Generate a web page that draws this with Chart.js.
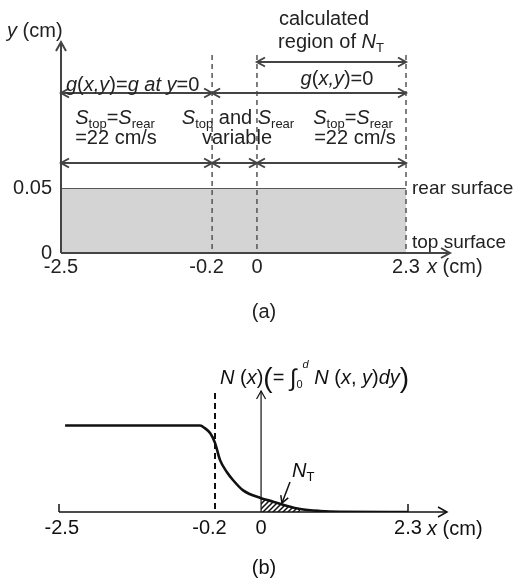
<!DOCTYPE html>
<html>
<head>
<meta charset="utf-8">
<script src="https://cdn.jsdelivr.net/npm/chart.js@4.4.1/dist/chart.umd.min.js"></script>
<style>
  body { margin: 0; background: #fff; width: 523px; height: 580px; overflow: hidden; position: relative; }
  canvas { position: absolute; left: 0; }
  #chartA { top: 0; }
  #chartB { top: 330px; }
</style>
</head>
<body>
<canvas id="chartA" width="523" height="330"></canvas>
<canvas id="chartB" width="523" height="250"></canvas>
<script>
// x (cm) where the schematic axis changes its scale
const xBreaks = [-2.5, -0.2, 0, 2.3];
const xTickLabelsA = ['-2.5', '-0.2  ', '0', '2.3'];
const xTickLabelsB = [' -2.5', '-0.2  ', '0', '2.3'];
const yTicksA = [0, 0.05];
const yTickLabelsA = ['0', '0.05'];

// wafer slab in (a), thickness 0.05 cm
const slabX = [-2.5, 2.3];
const slabY = [0.05, 0.05];

// N(x) in (b), normalised to 1 where flat
const curveX = [-2.41, -0.42, -0.35, -0.27, -0.2, -0.178, -0.148, -0.122, -0.078, 0, 0.19, 0.41, 0.61, 0.92, 1.24, 2.3];
const curveN = [1.0, 1.0, 0.97, 0.91, 0.80, 0.60, 0.46, 0.37, 0.25, 0.16, 0.12, 0.07, 0.035, 0.012, 0.003, 0];
const hatchEnd = 0.61;

const FONT = '"Liberation Sans", Arial, sans-serif';

// piecewise linear x axis, like the drawing
function makeSchematicScale(id, fracs) {
    class SchematicScale extends Chart.LinearScale {
        getPixelForValue(v) {
            if (v === null || v === undefined) return NaN;
            let i = 0;
            while (i < xBreaks.length - 2 && v > xBreaks[i + 1]) i++;
            const t = (v - xBreaks[i]) / (xBreaks[i + 1] - xBreaks[i]);
            return this.getPixelForDecimal(fracs[i] + t * (fracs[i + 1] - fracs[i]));
        }
        getValueForPixel(p) {
            const d = this.getDecimalForPixel(p);
            let i = 0;
            while (i < fracs.length - 2 && d > fracs[i + 1]) i++;
            const t = (d - fracs[i]) / (fracs[i + 1] - fracs[i]);
            return xBreaks[i] + t * (xBreaks[i + 1] - xBreaks[i]);
        }
    }
    SchematicScale.id = id;
    SchematicScale.defaults = Chart.LinearScale.defaults;
    Chart.register(SchematicScale);
}
makeSchematicScale('schemA', [0, 0.438, 0.568, 1]);
makeSchematicScale('schemB', [0, 0.447, 0.579, 1]);

function line(ctx, x1, y1, x2, y2) {
    ctx.beginPath();
    ctx.moveTo(x1, y1);
    ctx.lineTo(x2, y2);
    ctx.stroke();
}

// open V arrow head, tip at (x, y), pointing along angle a
function head(ctx, x, y, a, len, half) {
    const bx = x - len * Math.cos(a), by = y - len * Math.sin(a);
    const nx = -Math.sin(a) * half, ny = Math.cos(a) * half;
    ctx.beginPath();
    ctx.moveTo(bx + nx, by + ny);
    ctx.lineTo(x, y);
    ctx.lineTo(bx - nx, by - ny);
    ctx.stroke();
}

function dblArrow(ctx, x1, x2, y) {
    line(ctx, x1, y, x2, y);
    head(ctx, x1, y, Math.PI, 8, 4.5);
    head(ctx, x2, y, 0, 8, 4.5);
}

// parts: [text, size, italic, dy]
function rich(ctx, parts, x, base, align) {
    const fontOf = p => (p[2] ? 'italic ' : '') + p[1] + 'px ' + FONT;
    let w = 0;
    parts.forEach(p => { ctx.font = fontOf(p); w += ctx.measureText(p[0]).width; });
    let cx = align === 'center' ? x - w / 2 : x;
    ctx.textAlign = 'left';
    ctx.textBaseline = 'alphabetic';
    parts.forEach(p => {
        ctx.font = fontOf(p);
        ctx.fillText(p[0], cx, base + (p[3] || 0));
        cx += ctx.measureText(p[0]).width;
    });
}

const sTop = [['S', 20, true], ['top', 13, false, 4]];
const sRear = [['S', 20, true], ['rear', 13, false, 4]];

const panelA = {
    id: 'panelA',
    afterDraw(chart) {
        const ctx = chart.ctx;
        const px = v => chart.scales.x.getPixelForValue(v);
        const yBase = chart.scales.y.getPixelForValue(0);
        const x0 = px(-2.5);
        ctx.save();
        ctx.strokeStyle = '#444';
        ctx.fillStyle = '#222';
        ctx.lineWidth = 2;
        line(ctx, x0, yBase, 450, yBase);
        head(ctx, 450, yBase, 0, 9, 5);
        line(ctx, x0, yBase, x0, 42);
        head(ctx, x0, 42, -Math.PI / 2, 9, 5);

        ctx.strokeStyle = '#555';
        ctx.lineWidth = 1.5;
        ctx.setLineDash([5, 4]);
        [-0.2, 0, 2.3].forEach(v => line(ctx, px(v), 55, px(v), yBase));
        ctx.setLineDash([]);

        ctx.strokeStyle = '#444';
        ctx.lineWidth = 2;
        dblArrow(ctx, px(0), px(2.3), 62);
        dblArrow(ctx, px(-2.5), px(-0.2), 93);
        dblArrow(ctx, px(-0.2), px(2.3), 93);
        dblArrow(ctx, px(-2.5), px(-0.2), 163);
        dblArrow(ctx, px(-0.2), px(0), 163);
        dblArrow(ctx, px(0), px(2.3), 163);

        rich(ctx, [['y', 20, true], [' (cm)', 20, false]], 7, 37, 'left');
        rich(ctx, [['calculated', 20, false]], 324, 25, 'center');
        rich(ctx, [['region of ', 20, false], ['N', 20, true], ['T', 13, false, 4]], 331, 48, 'center');
        rich(ctx, [['g', 20, true], ['(', 20, false], ['x,y', 20, true], [')=', 20, false], ['g at y', 20, true], ['=0', 20, false]], 66, 91, 'left');
        rich(ctx, [['g', 20, true], ['(', 20, false], ['x,y', 20, true], [')=0', 20, false]], 337, 85, 'center');

        rich(ctx, [...sTop, ['=', 20, false], ...sRear], 115, 124, 'center');
        rich(ctx, [['=22 cm/s', 20, false]], 116, 144, 'center');
        rich(ctx, [...sTop, [' and ', 20, false], ...sRear], 238, 124, 'center');
        rich(ctx, [['variable', 20, false]], 237, 144, 'center');
        rich(ctx, [...sTop, ['=', 20, false], ...sRear], 353, 124, 'center');
        rich(ctx, [['=22 cm/s', 20, false]], 355, 144, 'center');

        rich(ctx, [['rear surface', 19, false]], 412, 194, 'left');
        rich(ctx, [['top surface', 19, false]], 412, 248, 'left');
        rich(ctx, [['x', 20, true], [' (cm)', 20, false]], 427, 273, 'left');
        rich(ctx, [['(a)', 20, false]], 264, 318, 'center');
        ctx.restore();
    }
};

const panelB = {
    id: 'panelB',
    afterDraw(chart) {
        const ctx = chart.ctx;
        const px = v => chart.scales.x.getPixelForValue(v);
        const yBase = chart.scales.y.getPixelForValue(0);
        const yTop = chart.chartArea.top;
        ctx.save();
        ctx.strokeStyle = '#111';
        ctx.fillStyle = '#111';
        ctx.lineWidth = 1.5;
        line(ctx, px(-2.5), yBase, 447, yBase);
        head(ctx, 447, yBase, 0, 9, 5);
        line(ctx, px(-2.5), yBase, px(-2.5), yBase - 8);
        line(ctx, px(2.3), yBase, px(2.3), yBase - 8);

        ctx.lineWidth = 1.2;
        line(ctx, px(0), yBase, px(0), yTop);
        head(ctx, px(0), yTop, -Math.PI / 2, 8, 4.5);

        ctx.lineWidth = 2;
        ctx.setLineDash([6, 4]);
        line(ctx, px(-0.2), yTop + 2, px(-0.2), yBase);
        ctx.setLineDash([]);

        rich(ctx, [['N', 20, true], [' (', 20, false], ['x', 20, true], [')', 20, false],
                   ['(', 28, false, 3], ['= ', 20, false], ['\u222B', 24, false, 2],
                   ['0', 11, false, 4], ['d', 11, true, -16], [' N', 20, true], [' (', 20, false],
                   ['x', 20, true], [', ', 20, false], ['y', 20, true], [')', 20, false],
                   ['dy', 20, true], [')', 28, false, 3]], 220, 54, 'left');

        rich(ctx, [['N', 20, true], ['T', 13, false, 4]], 292, 147, 'left');
        ctx.lineWidth = 1.5;
        line(ctx, 290, 152, 282, 173);
        head(ctx, 282, 173, Math.atan2(21, -8), 7, 4);

        rich(ctx, [['x', 20, true], [' (cm)', 20, false]], 427, 205, 'left');
        rich(ctx, [['(b)', 20, false]], 264, 244, 'center');
        ctx.restore();
    }
};

function hatchPattern() {
    const c = document.createElement('canvas');
    c.width = 5; c.height = 5;
    const g = c.getContext('2d');
    g.strokeStyle = '#111';
    g.lineWidth = 1.5;
    g.beginPath();
    g.moveTo(0, 5); g.lineTo(5, 0);
    g.moveTo(-2.5, 2.5); g.lineTo(2.5, -2.5);
    g.moveTo(2.5, 7.5); g.lineTo(7.5, 2.5);
    g.stroke();
    return g.createPattern(c, 'repeat');
}

const tickFont = { family: FONT, size: 20 };

new Chart(document.getElementById('chartA'), {
    type: 'line',
    data: {
        datasets: [{
            data: slabX.map((x, i) => ({ x: x, y: slabY[i] })),
            fill: 'origin',
            backgroundColor: '#d4d4d4',
            borderColor: '#555',
            borderWidth: 2,
            pointRadius: 0
        }]
    },
    options: {
        responsive: false,
        animation: false,
        devicePixelRatio: 1,
        layout: { padding: { top: 188, right: 117, left: 0, bottom: 0 } },
        plugins: { legend: { display: false }, tooltip: { enabled: false } },
        scales: {
            x: {
                type: 'schemA', min: -2.5, max: 2.3,
                grid: { display: false, drawTicks: false },
                border: { display: false },
                afterBuildTicks: s => { s.ticks = xBreaks.map(v => ({ value: v })); },
                afterFit: s => { s.height = 77; },
                ticks: { autoSkip: false, maxRotation: 0, padding: 2, color: '#222', font: tickFont,
                         callback: (v, i) => xTickLabelsA[i] }
            },
            y: {
                min: 0, max: 0.05,
                grid: { display: false, drawTicks: false },
                border: { display: false },
                afterBuildTicks: s => { s.ticks = yTicksA.map(v => ({ value: v })); },
                afterFit: s => { s.width = 61; },
                ticks: { padding: 9, color: '#222', font: tickFont, callback: (v, i) => yTickLabelsA[i] }
            }
        }
    },
    plugins: [panelA]
});

const hatchPts = curveX.map((x, i) => ({ x: x, y: curveN[i] })).filter(p => p.x >= 0 && p.x <= hatchEnd);

new Chart(document.getElementById('chartB'), {
    type: 'line',
    data: {
        datasets: [
            {
                data: hatchPts,
                fill: 'origin',
                backgroundColor: hatchPattern(),
                borderWidth: 0,
                pointRadius: 0,
                cubicInterpolationMode: 'monotone'
            },
            {
                data: curveX.map((x, i) => ({ x: x, y: curveN[i] })),
                fill: false,
                borderColor: '#111',
                borderWidth: 2.6,
                pointRadius: 0,
                cubicInterpolationMode: 'monotone'
            }
        ]
    },
    options: {
        responsive: false,
        animation: false,
        devicePixelRatio: 1,
        layout: { padding: { top: 61, right: 115, left: 59, bottom: 0 } },
        plugins: { legend: { display: false }, tooltip: { enabled: false } },
        scales: {
            x: {
                type: 'schemB', min: -2.5, max: 2.3,
                grid: { display: false, drawTicks: false },
                border: { display: false },
                afterBuildTicks: s => { s.ticks = xBreaks.map(v => ({ value: v })); },
                afterFit: s => { s.height = 68; },
                ticks: { autoSkip: false, maxRotation: 0, padding: 4, color: '#111', font: tickFont,
                         callback: (v, i) => xTickLabelsB[i] }
            },
            y: { display: false, min: 0, max: 1.4 }
        }
    },
    plugins: [panelB]
});
</script>
</body>
</html>
